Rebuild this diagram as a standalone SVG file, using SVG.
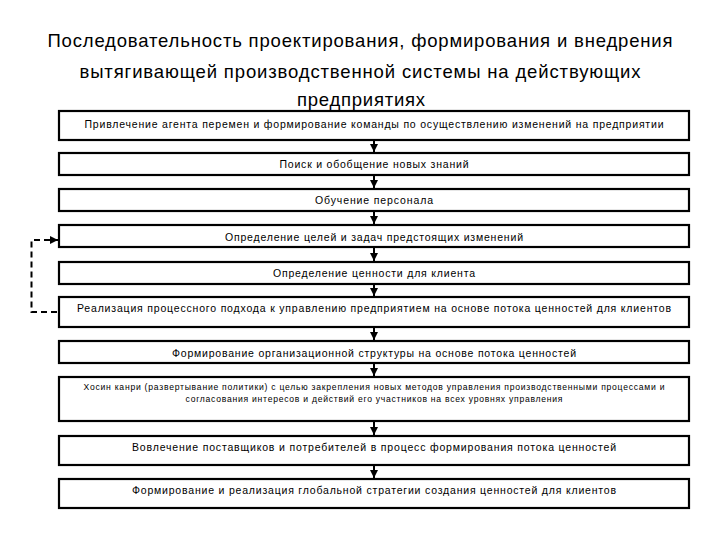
<svg xmlns="http://www.w3.org/2000/svg" width="720" height="540" viewBox="0 0 720 540">
<defs>
<style>
.title{font-family:"Liberation Sans",Arial,sans-serif;font-size:18.5px;fill:#000;text-anchor:middle}
.box{fill:#fff;stroke:#000;stroke-width:2.2}
.t{font-family:"Liberation Sans",Arial,sans-serif;font-size:10.5px;fill:#000;text-anchor:middle}
.s{font-family:"Liberation Sans",Arial,sans-serif;font-size:8.6px;fill:#000;text-anchor:middle}
.arr{stroke:#000;stroke-width:2;fill:none;marker-end:url(#ah)}
.dash{stroke:#000;stroke-width:2;fill:none;stroke-dasharray:6,4;marker-end:url(#ah)}
</style>
<marker id="ah" viewBox="0 0 8 8" refX="8" refY="4" markerWidth="4" markerHeight="4" markerUnits="strokeWidth" orient="auto">
<path d="M0,0 L8,4 L0,8 Z" fill="#000"/>
</marker>
</defs>
<rect width="720" height="540" fill="#fff"/>
<g id="title">
<text class="title" x="360" y="47" textLength="625" lengthAdjust="spacing">Последовательность проектирования, формирования и внедрения</text>
<text class="title" x="360" y="78" textLength="561" lengthAdjust="spacing">вытягивающей производственной системы на действующих</text>
<text class="title" x="361" y="106" textLength="128" lengthAdjust="spacing">предприятиях</text>
</g>
<g id="connectors">
<line class="arr" x1="374" y1="141" x2="374" y2="152"/>
<line class="arr" x1="374" y1="176" x2="374" y2="188"/>
<line class="arr" x1="374" y1="212" x2="374" y2="224"/>
<line class="arr" x1="374" y1="248" x2="374" y2="261"/>
<line class="arr" x1="374" y1="285" x2="374" y2="296"/>
<line class="arr" x1="374" y1="328" x2="374" y2="340"/>
<line class="arr" x1="374" y1="364" x2="374" y2="376"/>
<line class="arr" x1="374" y1="422" x2="374" y2="435"/>
<line class="arr" x1="374" y1="466" x2="374" y2="478"/>
<path class="dash" d="M57,312 H31.5 V240 H58"/>
</g>
<g id="n1"><rect class="box" x="59" y="111" width="630" height="29"/><text class="t" x="374" y="128" textLength="579" lengthAdjust="spacing">Привлечение агента перемен и формирование команды по осуществлению изменений на предприятии</text></g>
<g id="n2"><rect class="box" x="59" y="153" width="630" height="22"/><text class="t" x="374" y="168" textLength="189" lengthAdjust="spacing">Поиск и обобщение новых знаний</text></g>
<g id="n3"><rect class="box" x="59" y="189" width="630" height="22"/><text class="t" x="374" y="204" textLength="118" lengthAdjust="spacing">Обучение персонала</text></g>
<g id="n4"><rect class="box" x="59" y="225" width="630" height="22"/><text class="t" x="374" y="241" textLength="298" lengthAdjust="spacing">Определение целей и задач предстоящих изменений</text></g>
<g id="n5"><rect class="box" x="59" y="262" width="630" height="22"/><text class="t" x="374" y="277" textLength="202" lengthAdjust="spacing">Определение ценности для клиента</text></g>
<g id="n6"><rect class="box" x="59" y="297" width="630" height="30"/><text class="t" x="374" y="312" textLength="594" lengthAdjust="spacing">Реализация процессного подхода к управлению предприятием на основе потока ценностей для клиентов</text></g>
<g id="n7"><rect class="box" x="59" y="341" width="630" height="22"/><text class="t" x="374" y="357" textLength="404" lengthAdjust="spacing">Формирование организационной структуры на основе потока ценностей</text></g>
<g id="n8"><rect class="box" x="59" y="377" width="630" height="44"/>
<text class="s" x="374" y="390" textLength="581" lengthAdjust="spacing">Хосин канри (развертывание политики) с целью закрепления новых методов управления производственными процессами и</text>
<text class="s" x="374" y="402" textLength="377" lengthAdjust="spacing">согласования интересов и действий его участников на всех уровнях управления</text></g>
<g id="n9"><rect class="box" x="59" y="436" width="630" height="29"/><text class="t" x="374" y="451" textLength="484" lengthAdjust="spacing">Вовлечение поставщиков и потребителей в процесс формирования потока ценностей</text></g>
<g id="n10"><rect class="box" x="59" y="479" width="630" height="29"/><text class="t" x="374" y="494" textLength="484" lengthAdjust="spacing">Формирование и реализация глобальной стратегии создания ценностей для клиентов</text></g>
</svg>
